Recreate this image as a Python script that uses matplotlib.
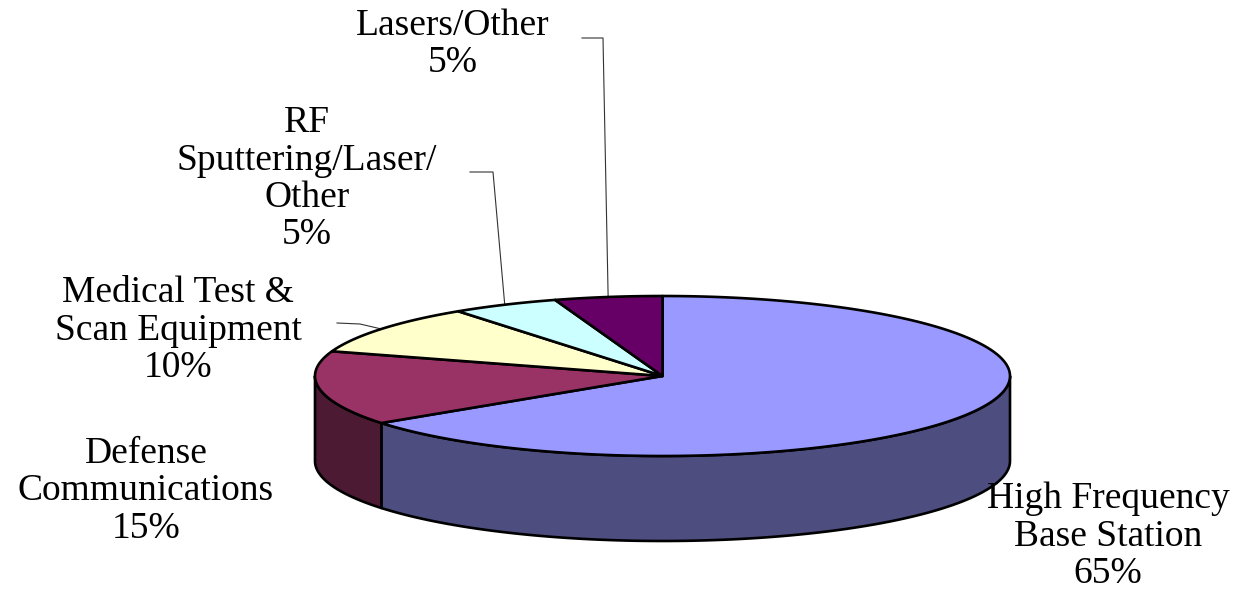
import numpy as np
import matplotlib
matplotlib.use('Agg')
import matplotlib.pyplot as plt
from matplotlib.patches import Polygon

# Market share by application (percent)
categories = ['High Frequency\nBase Station', 'Defense\nCommunications',
              'Medical Test &\nScan Equipment', 'RF\nSputtering/Laser/\nOther',
              'Lasers/Other']
shares = [65, 15, 10, 5, 5]
top_colors = ['#9999FF', '#993366', '#FFFFCC', '#CCFFFF', '#660066']
side_colors = ['#4D4D80', '#4D1A33', '#80806A', '#6A8080', '#330033']

# Layout of the 3D pie in pixel space
cx, cy = 662.5, 376
rx, ry = 347.5, 80
depth = 85

# Label placement: (center x, baseline of first line), line pitch
label_pos = [(1108, 508), (146, 463), (178, 302), (307, 132), (453, 35)]
line_pitch = 37.5
# elbow points of leader lines (None = no leader)
leaders = [None, None, [(337, 323), (360, 324)], [(470, 172), (493, 172)],
           [(582, 38), (603, 38)]]


def ell(t, dy=0):
    t = np.radians(t)
    return cx + rx * np.cos(t), cy - ry * np.sin(t) + dy


fig = plt.figure(figsize=(12.37, 5.90), dpi=100)
ax = fig.add_axes([0, 0, 1, 1])
ax.set_xlim(0, 1237)
ax.set_ylim(590, 0)
ax.axis('off')

# slice angles, starting at 12 o'clock and going clockwise
bounds = []
a0 = 90.0
for s in shares:
    a1 = a0 - s * 3.6
    bounds.append((a0, a1))
    a0 = a1

# sides (only front half is visible)
for (a0, a1), col in zip(bounds, side_colors):
    for lo_f, hi_f in [(-180, 0), (-540, -360), (180, 360)]:
        lo, hi = max(a1, lo_f), min(a0, hi_f)
        if hi <= lo:
            continue
        t = np.linspace(lo, hi, 100)
        xt, yt = ell(t)
        xb, yb = ell(t[::-1], depth)
        pts = np.column_stack([np.concatenate([xt, xb]), np.concatenate([yt, yb])])
        ax.add_patch(Polygon(pts, closed=True, facecolor=col, edgecolor='black',
                             linewidth=1.9, joinstyle='round'))

# tops
for (a0, a1), col in zip(bounds, top_colors):
    t = np.linspace(a0, a1, 200)
    x, y = ell(t)
    pts = np.column_stack([np.concatenate([[cx], x]), np.concatenate([[cy], y])])
    ax.add_patch(Polygon(pts, closed=True, facecolor=col, edgecolor='black',
                         linewidth=1.9, joinstyle='round'))

# labels
for lab, s, (lx, ly) in zip(categories, shares, label_pos):
    lines = lab.split('\n') + [f'{s}%']
    for i, ln in enumerate(lines):
        ax.text(lx, ly + i * line_pitch, ln, ha='center', va='baseline',
                fontsize=27, family='Liberation Serif', color='black')

# leader lines to the slice mid-angle on the rim
for (a0, a1), ld in zip(bounds, leaders):
    if ld is None:
        continue
    mx, my = ell((a0 + a1) / 2)
    xs = [p[0] for p in ld] + [mx]
    ys = [p[1] for p in ld] + [my]
    ax.plot(xs, ys, color='#333333', linewidth=0.8, zorder=0.5)

fig.savefig('out.png', dpi=100)
